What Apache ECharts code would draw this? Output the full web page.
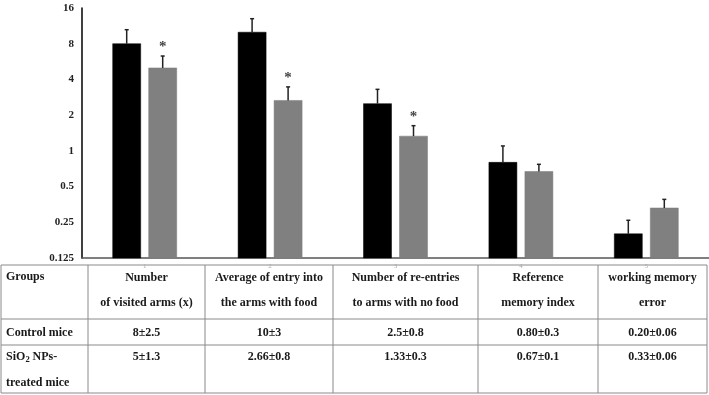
<!DOCTYPE html>
<html>
<head>
<meta charset="utf-8">
<script src="https://cdn.jsdelivr.net/npm/echarts@6/dist/echarts.min.js"></script>
<style>
html,body{margin:0;padding:0;background:#fff;}
#main{width:709px;height:395px;}
</style>
</head>
<body>
<div id="main"></div>
<script>
// ---- data ----
const categories = ['1', '2', '3', '4', '5'];
const controlMean = [8, 10, 2.5, 0.8, 0.2];
const controlSD = [2.5, 3, 0.8, 0.3, 0.06];
const treatedMean = [5, 2.66, 1.33, 0.67, 0.33];
const treatedSD = [1.3, 0.8, 0.3, 0.1, 0.06];
const significant = [true, true, true, false, false];
const yTicks = [0.125, 0.25, 0.5, 1, 2, 4, 8, 16];

const tableHeader = ['Groups', 'Number\nof visited arms (x)', 'Average of entry into\nthe arms with food',
  'Number of re-entries\nto arms with no food', 'Reference\nmemory index', 'working memory\nerror'];
const controlRow = ['Control mice', '8±2.5', '10±3', '2.5±0.8', '0.80±0.3', '0.20±0.06'];
const treatedRow = ['SiO2 NPs-\ntreated mice', '5±1.3', '2.66±0.8', '1.33±0.3', '0.67±0.1', '0.33±0.06'];

// ---- layout ----
const FONT = '"Liberation Serif","Times New Roman",serif';
const BAR_W = 28, BAR_GAP = 8;
const colX = [1, 88, 205, 333, 478, 598, 707];
const rowY = [265, 319, 345, 393];
const LINE_C = '#8a8a8a';
const TXT_C = '#1a1a1a';
const SX = 0.96;

function groupSeries(name, means, sds, color, side, stars) {
  return {
    type: 'custom',
    name: name,
    data: means.map((m, i) => [i, m, sds[i], stars ? (stars[i] ? 1 : 0) : 0]),
    renderItem: function (params, api) {
      const idx = api.value(0), v = api.value(1), sd = api.value(2), star = api.value(3);
      const top = api.coord([idx, v]);
      const base = api.coord([idx, yTicks[0]]);
      const errTop = api.coord([idx, v + sd]);
      const cx = top[0] + side * (BAR_W + BAR_GAP) / 2;
      const children = [
        { type: 'rect', shape: { x: cx - BAR_W / 2, y: top[1], width: BAR_W, height: base[1] - top[1] },
          style: { fill: color, stroke: color === '#000' ? '#000' : '#7a7a7a', lineWidth: 0.5 } },
        { type: 'line', shape: { x1: cx, y1: top[1], x2: cx, y2: errTop[1] },
          style: { stroke: '#222', lineWidth: 1.5 } },
        { type: 'line', shape: { x1: cx - 2, y1: errTop[1], x2: cx + 2, y2: errTop[1] },
          style: { stroke: '#222', lineWidth: 1.5 } }
      ];
      if (star) {
        children.push({ type: 'text', style: { text: '*', x: cx, y: errTop[1] - 9,
          font: 'bold 15px ' + FONT, fill: '#444', align: 'center', verticalAlign: 'middle',
          textAlign: 'center', textVerticalAlign: 'middle' } });
      }
      return { type: 'group', children: children };
    },
    z: 3
  };
}

function txt(text, x, y, align, size) {
  return { type: 'text', silent: true, x: x, y: y, scaleX: SX, scaleY: 1,
    style: { text: text, x: 0, y: 0,
    font: 'bold ' + (size || 12.5) + 'px ' + FONT, fill: TXT_C,
    align: align || 'center', verticalAlign: 'middle',
    textAlign: align || 'center', textVerticalAlign: 'middle', lineHeight: 25 } };
}

const graphics = [];
colX.forEach(x => graphics.push({ type: 'line', silent: true,
  shape: { x1: x, y1: rowY[0], x2: x, y2: rowY[rowY.length - 1] }, style: { stroke: LINE_C, lineWidth: 1 } }));
rowY.forEach(y => graphics.push({ type: 'line', silent: true,
  shape: { x1: colX[0], y1: y, x2: colX[colX.length - 1], y2: y }, style: { stroke: LINE_C, lineWidth: 1 } }));

tableHeader.forEach((t, c) => {
  if (c === 0) graphics.push(txt(t, 6, 277, 'left'));
  else graphics.push(txt(t, (colX[c] + colX[c + 1]) / 2, 290, 'center'));
});
controlRow.forEach((t, c) => {
  if (c === 0) graphics.push(txt(t, 6, 333, 'left'));
  else graphics.push(txt(t, (colX[c] + colX[c + 1]) / 2, 333, 'center'));
});
treatedRow.forEach((t, c) => {
  if (c === 0) {
    const parts = t.split('\n');
    const first = parts[0]; // 'SiO2 NPs-'
    graphics.push(txt(first.slice(0, 3), 6, 357, 'left'));
    graphics.push(txt(first.slice(3, 4), 25.5, 360, 'left', 9));
    graphics.push(txt(first.slice(4), 29.5, 357, 'left'));
    graphics.push(txt(parts[1], 6, 383, 'left'));
  } else graphics.push(txt(t, (colX[c] + colX[c + 1]) / 2, 357, 'center'));
});

const chart = echarts.init(document.getElementById('main'), null, { renderer: 'canvas' });
chart.setOption({
  animation: false,
  backgroundColor: '#fff',
  grid: { left: 82, right: 0, top: 8, bottom: 137, containLabel: false },
  xAxis: {
    type: 'category', data: categories,
    axisLine: { lineStyle: { color: '#555', width: 1.5 } },
    axisTick: { show: false },
    axisLabel: { fontSize: 7, color: '#aaa', margin: 5, fontFamily: FONT }
  },
  yAxis: {
    type: 'log', logBase: 2, min: yTicks[0], max: yTicks[yTicks.length - 1], splitNumber: 7,
    axisLine: { show: true, lineStyle: { color: '#000', width: 1.5 } },
    axisTick: { show: false },
    splitLine: { show: false },
    axisLabel: { fontSize: 11, fontWeight: 'bold', color: '#222', fontFamily: FONT, margin: 8,
      formatter: v => String(Math.round(v * 1000) / 1000) }
  },
  series: [
    groupSeries('Control mice', controlMean, controlSD, '#000', -1, null),
    groupSeries('SiO2 NPs-treated mice', treatedMean, treatedSD, '#808080', 1, significant)
  ],
  graphic: graphics
});
</script>
</body>
</html>
